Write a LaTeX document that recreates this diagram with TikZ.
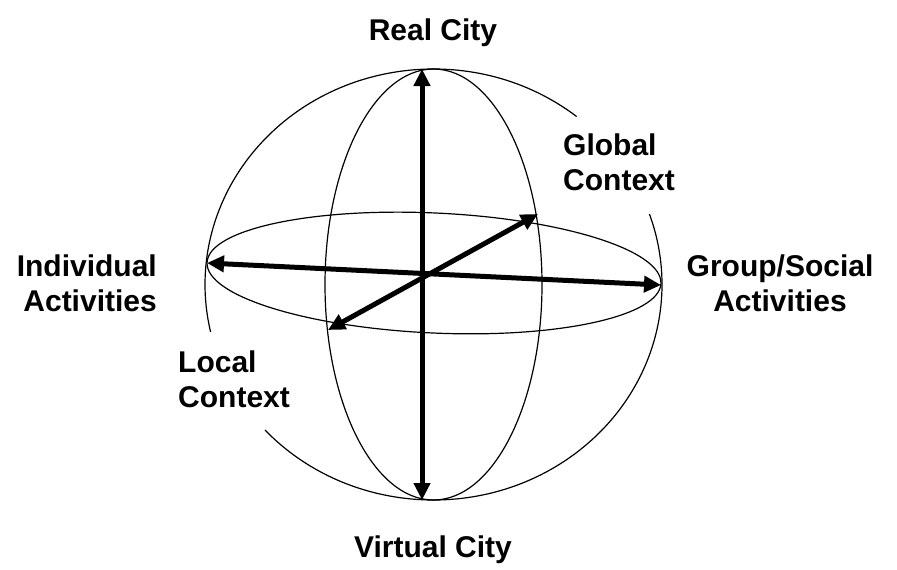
\documentclass[tikz,border=0pt]{standalone}
\usepackage{fontspec}
\setmainfont{Liberation Sans}
\usetikzlibrary{arrows.meta}

\begin{document}
\begin{tikzpicture}[x=1pt, y=-1pt,
	ring/.style={line width=1.2pt},
	axis/.style={line width=5pt, {Triangle[length=17pt,width=16pt]}-{Triangle[length=17pt,width=16pt]}},
	lbl/.style={font=\bfseries\fontsize{30}{35}\selectfont, inner sep=0pt}]
	\useasboundingbox (0,0) rectangle (897,570);
	\coordinate (c) at (433.5,284.5);
	\coordinate (eq) at (434,273);
	% outer sphere, open next to the two context labels
	\draw[ring] (c) ++(-51.2:228.5 and 215.5) arc[start angle=-51.2, end angle=-192.7, x radius=228.5, y radius=215.5];
	\draw[ring] (c) ++(-222.5:228.5 and 215.5) arc[start angle=-222.5, end angle=-379.1, x radius=228.5, y radius=215.5];
	\draw[ring] (c) ellipse[x radius=108.5, y radius=215.5];
	\draw[ring, rotate around={-2.65:(eq)}] (eq) ellipse[x radius=227.2, y radius=60];
	% axes
	\coordinate (top) at (422,69);
	\coordinate (bot) at (422,500);
	\coordinate (west) at (207,263);
	\coordinate (east) at (661,285);
	\coordinate (glob) at (538,214);
	\coordinate (loc) at (328,330);
	\draw[axis] (top) -- (bot);
	\draw[axis] (west) -- (east);
	\draw[axis] (loc) -- (glob);
	% labels (base = last line)
	\node[lbl, anchor=base] (real) at (433,40) {Real City};
	\node[lbl, anchor=base] (virtual) at (433,557) {Virtual City};
	\node[lbl, align=left, anchor=base west] (global) at (563,190) {Global\\Context};
	\node[lbl, align=right, anchor=base east] (indiv) at (157,311) {Individual\\Activities};
	\node[lbl, align=center, anchor=base] (group) at (780,311) {Group/Social\\Activities};
	\node[lbl, align=left, anchor=base west] (local) at (178,407) {Local\\Context};
\end{tikzpicture}
\end{document}
